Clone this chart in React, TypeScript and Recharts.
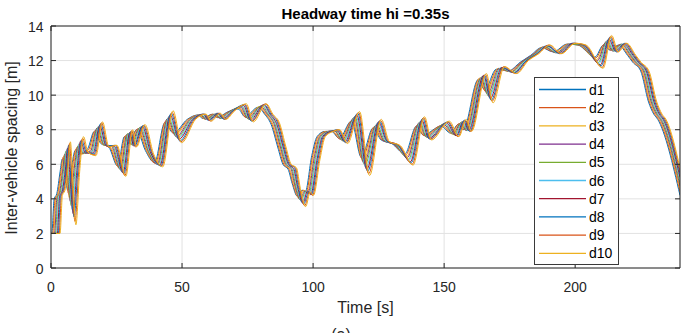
import React from 'react';
import { LineChart, Line, XAxis, YAxis, CartesianGrid, ReferenceLine } from 'recharts';

// ---- tick labels ----
const xTicks = [0, 50, 100, 150, 200];
const yTicks = [0, 2, 4, 6, 8, 10, 12, 14];

// ---- series names / colours ----
const seriesNames = ['d1', 'd2', 'd3', 'd4', 'd5', 'd6', 'd7', 'd8', 'd9', 'd10'];
const seriesColors = ['#0072BD', '#D95319', '#EDB120', '#7E2F8E', '#77AC30', '#4DBEEE', '#A2142F', '#0072BD', '#D95319', '#EDB120'];

// ---- time samples (s) and spacing values (m), one pair of arrays per vehicle ----
const t_d1 = [0, 0.3, 1.2, 2.2, 3.5, 4.25, 5.3, 6.35, 7.8, 9.25, 11, 14, 16.5, 19, 22, 25.4, 28, 29.5, 32.7, 36, 39.5, 43.4, 46.7, 52, 56, 58, 61.5, 63.5, 67, 71.4, 74, 79, 81.5, 84, 86.5, 88.5, 90.5, 92, 94, 95.8, 97, 99.5, 101.5, 104.5, 107, 110, 114.6, 118.4, 122.9, 126, 130, 135, 139.4, 142, 148.8, 152.5, 155.3, 157.3, 163, 165.5, 169.9, 174.5, 179, 183, 187.2, 191.6, 196.9, 201, 207.5, 210.8, 213.3, 216.5, 220, 222, 225, 228, 230, 231.5, 240];
const v_d1 = [2, 2, 4.0, 4.3, 5.6, 6.3, 5.6, 4.5, 5.8, 6.8, 6.6, 6.9, 7.9, 7.2, 7.0, 5.9, 7.6, 7.2, 8.0, 6.8, 6.1, 8.4, 7.8, 8.6, 8.85, 8.65, 8.9, 8.7, 9.0, 9.2, 8.75, 9.3, 8.9, 8.3, 7.0, 6.0, 5.7, 4.9, 4.15, 4.5, 4.4, 6.5, 7.6, 7.9, 7.9, 7.5, 8.5, 6.4, 8.1, 7.4, 7.2, 6.6, 8.2, 7.7, 8.2, 7.8, 8.3, 8.0, 10.9, 10.3, 11.5, 11.4, 11.9, 12.3, 12.75, 12.5, 12.95, 12.9, 12.2, 12.9, 12.6, 12.9, 12.3, 11.9, 11.4, 9.6, 8.9, 8.6, 4.2];

const t_d2 = [0, 0.65, 1.55, 2.55, 3.85, 4.6, 5.65, 6.7, 8.15, 9.6, 11.35, 14.35, 16.85, 19.35, 22.35, 25.75, 28.35, 29.85, 33.05, 36.35, 39.85, 43.75, 47.05, 52.35, 56.35, 58.35, 61.85, 63.85, 67.35, 71.75, 74.35, 79.35, 81.85, 84.35, 86.85, 88.85, 90.85, 92.35, 94.35, 96.15, 97.35, 99.85, 101.85, 104.85, 107.35, 110.35, 114.95, 118.75, 123.25, 126.35, 130.35, 135.35, 139.75, 142.35, 149.15, 152.85, 155.65, 157.65, 163.35, 165.85, 170.25, 174.85, 179.35, 183.35, 187.55, 191.95, 197.25, 201.35, 207.85, 211.15, 213.65, 216.85, 220.35, 222.35, 225.35, 228.35, 230.35, 231.85, 240];
const v_d2 = [2, 2, 4.0, 4.3, 5.65, 6.4, 5.5, 4.3, 5.8, 6.9, 6.6, 6.85, 7.95, 7.2, 7.0, 5.85, 7.65, 7.2, 8.05, 6.8, 6.05, 8.5, 7.75, 8.6, 8.85, 8.65, 8.9, 8.7, 9.0, 9.25, 8.7, 9.3, 8.9, 8.3, 7.0, 6.0, 5.7, 4.85, 4.1, 4.5, 4.4, 6.5, 7.6, 7.9, 7.9, 7.45, 8.55, 6.3, 8.15, 7.4, 7.2, 6.55, 8.25, 7.65, 8.25, 7.8, 8.35, 8.0, 10.95, 10.2, 11.5, 11.4, 11.9, 12.3, 12.75, 12.5, 12.95, 12.9, 12.15, 12.95, 12.6, 12.9, 12.3, 11.9, 11.4, 9.6, 8.9, 8.6, 4.4];

const t_d3 = [0, 1.0, 1.9, 2.9, 4.2, 4.95, 6.0, 7.05, 8.5, 9.95, 11.7, 14.7, 17.2, 19.7, 22.7, 26.1, 28.7, 30.2, 33.4, 36.7, 40.2, 44.1, 47.4, 52.7, 56.7, 58.7, 62.2, 64.2, 67.7, 72.1, 74.7, 79.7, 82.2, 84.7, 87.2, 89.2, 91.2, 92.7, 94.7, 96.5, 97.7, 100.2, 102.2, 105.2, 107.7, 110.7, 115.3, 119.1, 123.6, 126.7, 130.7, 135.7, 140.1, 142.7, 149.5, 153.2, 156.0, 158.0, 163.7, 166.2, 170.6, 175.2, 179.7, 183.7, 187.9, 192.3, 197.6, 201.7, 208.2, 211.5, 214.0, 217.2, 220.7, 222.7, 225.7, 228.7, 230.7, 232.2, 240];
const v_d3 = [2, 2, 4.05, 4.35, 5.7, 6.5, 5.4, 4.05, 5.75, 7.0, 6.6, 6.8, 8.0, 7.15, 7.0, 5.75, 7.7, 7.15, 8.05, 6.75, 6.05, 8.55, 7.7, 8.6, 8.85, 8.6, 8.9, 8.7, 9.0, 9.25, 8.7, 9.35, 8.9, 8.3, 7.0, 6.0, 5.7, 4.85, 4.0, 4.5, 4.35, 6.45, 7.6, 7.9, 7.9, 7.45, 8.6, 6.15, 8.2, 7.4, 7.2, 6.45, 8.3, 7.65, 8.25, 7.75, 8.35, 8.0, 11.0, 10.15, 11.55, 11.35, 11.9, 12.3, 12.8, 12.5, 12.95, 12.9, 12.05, 13.0, 12.6, 12.9, 12.3, 11.9, 11.4, 9.6, 8.9, 8.6, 4.55];

const t_d4 = [0, 1.35, 2.25, 3.25, 4.55, 5.3, 6.35, 7.4, 8.85, 10.3, 12.05, 15.05, 17.55, 20.05, 23.05, 26.45, 29.05, 30.55, 33.75, 37.05, 40.55, 44.45, 47.75, 53.05, 57.05, 59.05, 62.55, 64.55, 68.05, 72.45, 75.05, 80.05, 82.55, 85.05, 87.55, 89.55, 91.55, 93.05, 95.05, 96.85, 98.05, 100.55, 102.55, 105.55, 108.05, 111.05, 115.65, 119.45, 123.95, 127.05, 131.05, 136.05, 140.45, 143.05, 149.85, 153.55, 156.35, 158.35, 164.05, 166.55, 170.95, 175.55, 180.05, 184.05, 188.25, 192.65, 197.95, 202.05, 208.55, 211.85, 214.35, 217.55, 221.05, 223.05, 226.05, 229.05, 231.05, 232.55, 240];
const v_d4 = [2, 2, 4.05, 4.35, 5.75, 6.6, 5.25, 3.85, 5.75, 7.05, 6.65, 6.75, 8.1, 7.15, 7.05, 5.7, 7.75, 7.15, 8.1, 6.75, 6.0, 8.65, 7.6, 8.6, 8.85, 8.6, 8.9, 8.65, 9.05, 9.3, 8.65, 9.35, 8.9, 8.35, 7.0, 6.0, 5.75, 4.8, 3.95, 4.45, 4.35, 6.45, 7.6, 7.9, 7.95, 7.4, 8.7, 6.05, 8.25, 7.35, 7.15, 6.4, 8.4, 7.6, 8.3, 7.75, 8.4, 7.95, 11.0, 10.05, 11.55, 11.35, 11.95, 12.35, 12.8, 12.45, 12.95, 12.9, 12.0, 13.1, 12.55, 12.95, 12.3, 11.9, 11.4, 9.6, 8.9, 8.6, 4.75];

const t_d5 = [0, 1.7, 2.6, 3.6, 4.9, 5.65, 6.7, 7.75, 9.2, 10.65, 12.4, 15.4, 17.9, 20.4, 23.4, 26.8, 29.4, 30.9, 34.1, 37.4, 40.9, 44.8, 48.1, 53.4, 57.4, 59.4, 62.9, 64.9, 68.4, 72.8, 75.4, 80.4, 82.9, 85.4, 87.9, 89.9, 91.9, 93.4, 95.4, 97.2, 98.4, 100.9, 102.9, 105.9, 108.4, 111.4, 116.0, 119.8, 124.3, 127.4, 131.4, 136.4, 140.8, 143.4, 150.2, 153.9, 156.7, 158.7, 164.4, 166.9, 171.3, 175.9, 180.4, 184.4, 188.6, 193.0, 198.3, 202.4, 208.9, 212.2, 214.7, 217.9, 221.4, 223.4, 226.4, 229.4, 231.4, 232.9, 240];
const v_d5 = [2, 2, 4.1, 4.4, 5.8, 6.75, 5.15, 3.6, 5.7, 7.15, 6.65, 6.7, 8.15, 7.1, 7.05, 5.65, 7.8, 7.1, 8.15, 6.7, 6.0, 8.7, 7.55, 8.6, 8.85, 8.6, 8.9, 8.65, 9.05, 9.35, 8.6, 9.4, 8.9, 8.35, 7.0, 6.0, 5.75, 4.75, 3.9, 4.45, 4.3, 6.4, 7.6, 7.9, 7.95, 7.35, 8.75, 5.95, 8.3, 7.35, 7.15, 6.3, 8.45, 7.55, 8.35, 7.7, 8.45, 7.95, 11.05, 9.95, 11.55, 11.35, 11.95, 12.35, 12.8, 12.45, 12.95, 12.9, 11.9, 13.15, 12.55, 12.95, 12.3, 11.9, 11.4, 9.6, 8.9, 8.6, 4.9];

const t_d6 = [0, 2.05, 2.95, 3.95, 5.25, 6.0, 7.05, 8.1, 9.55, 11.0, 12.75, 15.75, 18.25, 20.75, 23.75, 27.15, 29.75, 31.25, 34.45, 37.75, 41.25, 45.15, 48.45, 53.75, 57.75, 59.75, 63.25, 65.25, 68.75, 73.15, 75.75, 80.75, 83.25, 85.75, 88.25, 90.25, 92.25, 93.75, 95.75, 97.55, 98.75, 101.25, 103.25, 106.25, 108.75, 111.75, 116.35, 120.15, 124.65, 127.75, 131.75, 136.75, 141.15, 143.75, 150.55, 154.25, 157.05, 159.05, 164.75, 167.25, 171.65, 176.25, 180.75, 184.75, 188.95, 193.35, 198.65, 202.75, 209.25, 212.55, 215.05, 218.25, 221.75, 223.75, 226.75, 229.75, 231.75, 233.25, 240];
const v_d6 = [2, 2, 4.1, 4.4, 5.8, 6.85, 5.05, 3.4, 5.7, 7.25, 6.65, 6.7, 8.2, 7.1, 7.05, 5.55, 7.8, 7.1, 8.15, 6.7, 5.95, 8.8, 7.5, 8.6, 8.9, 8.55, 8.95, 8.65, 9.05, 9.35, 8.6, 9.4, 8.9, 8.35, 7.0, 6.0, 5.75, 4.75, 3.8, 4.45, 4.3, 6.4, 7.6, 7.9, 7.95, 7.35, 8.8, 5.8, 8.4, 7.35, 7.15, 6.25, 8.5, 7.55, 8.35, 7.7, 8.45, 7.95, 11.1, 9.9, 11.6, 11.3, 11.95, 12.35, 12.85, 12.45, 13.0, 12.9, 11.85, 13.2, 12.55, 12.95, 12.3, 11.9, 11.4, 9.6, 8.9, 8.6, 5.1];

const t_d7 = [0, 2.4, 3.3, 4.3, 5.6, 6.35, 7.4, 8.45, 9.9, 11.35, 13.1, 16.1, 18.6, 21.1, 24.1, 27.5, 30.1, 31.6, 34.8, 38.1, 41.6, 45.5, 48.8, 54.1, 58.1, 60.1, 63.6, 65.6, 69.1, 73.5, 76.1, 81.1, 83.6, 86.1, 88.6, 90.6, 92.6, 94.1, 96.1, 97.9, 99.1, 101.6, 103.6, 106.6, 109.1, 112.1, 116.7, 120.5, 125.0, 128.1, 132.1, 137.1, 141.5, 144.1, 150.9, 154.6, 157.4, 159.4, 165.1, 167.6, 172.0, 176.6, 181.1, 185.1, 189.3, 193.7, 199.0, 203.1, 209.6, 212.9, 215.4, 218.6, 222.1, 224.1, 227.1, 230.1, 232.1, 233.6, 240];
const v_d7 = [2, 2, 4.15, 4.45, 5.85, 6.95, 4.95, 3.15, 5.65, 7.35, 6.65, 6.65, 8.25, 7.05, 7.05, 5.5, 7.85, 7.05, 8.2, 6.65, 5.95, 8.85, 7.45, 8.6, 8.9, 8.55, 8.95, 8.65, 9.05, 9.4, 8.55, 9.45, 8.9, 8.35, 7.0, 6.0, 5.75, 4.7, 3.75, 4.45, 4.25, 6.35, 7.6, 7.9, 7.95, 7.3, 8.85, 5.7, 8.45, 7.35, 7.15, 6.15, 8.55, 7.5, 8.4, 7.65, 8.5, 7.95, 11.15, 9.8, 11.6, 11.3, 11.95, 12.35, 12.85, 12.45, 13.0, 12.9, 11.75, 13.25, 12.55, 12.95, 12.3, 11.9, 11.4, 9.6, 8.9, 8.6, 5.25];

const t_d8 = [0, 2.75, 3.65, 4.65, 5.95, 6.7, 7.75, 8.8, 10.25, 11.7, 13.45, 16.45, 18.95, 21.45, 24.45, 27.85, 30.45, 31.95, 35.15, 38.45, 41.95, 45.85, 49.15, 54.45, 58.45, 60.45, 63.95, 65.95, 69.45, 73.85, 76.45, 81.45, 83.95, 86.45, 88.95, 90.95, 92.95, 94.45, 96.45, 98.25, 99.45, 101.95, 103.95, 106.95, 109.45, 112.45, 117.05, 120.85, 125.35, 128.45, 132.45, 137.45, 141.85, 144.45, 151.25, 154.95, 157.75, 159.75, 165.45, 167.95, 172.35, 176.95, 181.45, 185.45, 189.65, 194.05, 199.35, 203.45, 209.95, 213.25, 215.75, 218.95, 222.45, 224.45, 227.45, 230.45, 232.45, 233.95, 240];
const v_d8 = [2, 2, 4.15, 4.45, 5.9, 7.1, 4.8, 2.95, 5.65, 7.4, 6.7, 6.6, 8.35, 7.05, 7.1, 5.45, 7.9, 7.05, 8.25, 6.65, 5.9, 8.95, 7.35, 8.6, 8.9, 8.55, 8.95, 8.6, 9.1, 9.45, 8.5, 9.45, 8.9, 8.4, 7.0, 6.0, 5.8, 4.65, 3.7, 4.4, 4.25, 6.35, 7.6, 7.9, 8.0, 7.25, 8.95, 5.6, 8.5, 7.3, 7.1, 6.1, 8.65, 7.45, 8.45, 7.65, 8.55, 7.9, 11.15, 9.7, 11.6, 11.3, 12.0, 12.4, 12.85, 12.4, 13.0, 12.9, 11.7, 13.35, 12.5, 13.0, 12.3, 11.9, 11.4, 9.6, 8.9, 8.6, 5.45];

const t_d9 = [0, 3.1, 4.0, 5.0, 6.3, 7.05, 8.1, 9.15, 10.6, 12.05, 13.8, 16.8, 19.3, 21.8, 24.8, 28.2, 30.8, 32.3, 35.5, 38.8, 42.3, 46.2, 49.5, 54.8, 58.8, 60.8, 64.3, 66.3, 69.8, 74.2, 76.8, 81.8, 84.3, 86.8, 89.3, 91.3, 93.3, 94.8, 96.8, 98.6, 99.8, 102.3, 104.3, 107.3, 109.8, 112.8, 117.4, 121.2, 125.7, 128.8, 132.8, 137.8, 142.2, 144.8, 151.6, 155.3, 158.1, 160.1, 165.8, 168.3, 172.7, 177.3, 181.8, 185.8, 190.0, 194.4, 199.7, 203.8, 210.3, 213.6, 216.1, 219.3, 222.8, 224.8, 227.8, 230.8, 232.8, 234.3, 240];
const v_d9 = [2, 2, 4.2, 4.5, 5.95, 7.2, 4.7, 2.7, 5.6, 7.5, 6.7, 6.55, 8.4, 7.0, 7.1, 5.35, 7.95, 7.0, 8.25, 6.6, 5.9, 9.0, 7.3, 8.6, 8.9, 8.5, 8.95, 8.6, 9.1, 9.45, 8.5, 9.5, 8.9, 8.4, 7.0, 6.0, 5.8, 4.65, 3.6, 4.4, 4.2, 6.3, 7.6, 7.9, 8.0, 7.25, 9.0, 5.45, 8.55, 7.3, 7.1, 6.0, 8.7, 7.45, 8.45, 7.6, 8.55, 7.9, 11.2, 9.65, 11.65, 11.25, 12.0, 12.4, 12.9, 12.4, 13.0, 12.9, 11.6, 13.4, 12.5, 13.0, 12.3, 11.9, 11.4, 9.6, 8.9, 8.6, 5.6];

const t_d10 = [0, 3.45, 4.35, 5.35, 6.65, 7.4, 8.45, 9.5, 10.95, 12.4, 14.15, 17.15, 19.65, 22.15, 25.15, 28.55, 31.15, 32.65, 35.85, 39.15, 42.65, 46.55, 49.85, 55.15, 59.15, 61.15, 64.65, 66.65, 70.15, 74.55, 77.15, 82.15, 84.65, 87.15, 89.65, 91.65, 93.65, 95.15, 97.15, 98.95, 100.15, 102.65, 104.65, 107.65, 110.15, 113.15, 117.75, 121.55, 126.05, 129.15, 133.15, 138.15, 142.55, 145.15, 151.95, 155.65, 158.45, 160.45, 166.15, 168.65, 173.05, 177.65, 182.15, 186.15, 190.35, 194.75, 200.05, 204.15, 210.65, 213.95, 216.45, 219.65, 223.15, 225.15, 228.15, 231.15, 233.15, 234.65, 240];
const v_d10 = [2, 2, 4.2, 4.5, 6.0, 7.3, 4.6, 2.5, 5.6, 7.6, 6.7, 6.5, 8.45, 7.0, 7.1, 5.3, 8.0, 7.0, 8.3, 6.6, 5.85, 9.1, 7.25, 8.6, 8.9, 8.5, 8.95, 8.6, 9.1, 9.5, 8.45, 9.5, 8.9, 8.4, 7.0, 6.0, 5.8, 4.6, 3.55, 4.4, 4.2, 6.3, 7.6, 7.9, 8.0, 7.2, 9.05, 5.35, 8.6, 7.3, 7.1, 5.95, 8.75, 7.4, 8.5, 7.6, 8.6, 7.9, 11.25, 9.55, 11.65, 11.25, 12.0, 12.4, 12.9, 12.4, 13.0, 12.9, 11.55, 13.45, 12.5, 13.0, 12.3, 11.9, 11.4, 9.6, 8.9, 8.6, 5.8];

const seriesTimes = [t_d1, t_d2, t_d3, t_d4, t_d5, t_d6, t_d7, t_d8, t_d9, t_d10];
const seriesValues = [v_d1, v_d2, v_d3, v_d4, v_d5, v_d6, v_d7, v_d8, v_d9, v_d10];

const series = seriesNames.map((name, i) => ({
  name,
  color: seriesColors[i],
  data: seriesTimes[i].map((t, k) => ({ t, v: seriesValues[i][k] })),
}));

const X_MIN = 0;
const X_MAX = 240;
const Y_MIN = 0;
const Y_MAX = 14;

const FONT = '"Liberation Sans", Arial, Helvetica, sans-serif';
const AX = '#262626';
const W = 688;
const H = 333;

const BottomTick = (p: any) => (
  <g>
    <line x1={p.x} y1={p.y} x2={p.x} y2={p.y - 5} stroke={AX} strokeWidth={1} />
    <text x={p.x} y={p.y + 23.5} textAnchor="middle" fontSize={14} fill={AX} fontFamily={FONT}>
      {p.payload.value}
    </text>
  </g>
);
const LeftTick = (p: any) => (
  <g>
    <line x1={p.x} y1={p.y} x2={p.x + 5} y2={p.y} stroke={AX} strokeWidth={1} />
    <text x={p.x - 7.5} y={p.y + 5.5} textAnchor="end" fontSize={14} fill={AX} fontFamily={FONT}>
      {p.payload.value}
    </text>
  </g>
);

const LegendBox = () => (
  <svg width={85} height={188} style={{ display: 'block' }}>
    <rect x={0.5} y={0.5} width={84} height={187} fill="#ffffff" stroke="#3a3a3a" strokeWidth={1} />
    {series.map((s, i) => (
      <g key={s.name}>
        <line x1={5} x2={52} y1={12.5 + i * 18.2} y2={12.5 + i * 18.2} stroke={s.color} strokeWidth={1.3} />
        <text x={55} y={17.5 + i * 18.2} fontSize={14} fill="#000" fontFamily={FONT}>
          {s.name}
        </text>
      </g>
    ))}
  </svg>
);

export default function App() {
  return (
    <div
      style={{
        position: 'absolute',
        left: 0,
        top: 0,
        width: W,
        height: H,
        background: '#ffffff',
        overflow: 'hidden',
        fontFamily: FONT,
      }}
    >
      <LineChart width={W} height={H} margin={{ top: 26, right: 8, bottom: 0, left: 0 }}>
        <CartesianGrid stroke="#e2e2e2" strokeWidth={1} />
        <XAxis
          dataKey="t"
          type="number"
          domain={[X_MIN, X_MAX]}
          ticks={xTicks}
          allowDataOverflow
          axisLine={{ stroke: AX, strokeWidth: 1 }}
          tickLine={false}
          tickSize={0}
          tickMargin={0}
          height={65}
          tick={BottomTick}
          interval={0}
        />
        <YAxis
          type="number"
          domain={[Y_MIN, Y_MAX]}
          ticks={yTicks}
          allowDataOverflow
          axisLine={{ stroke: AX, strokeWidth: 1 }}
          tickLine={false}
          tickSize={0}
          tickMargin={0}
          width={51}
          tick={LeftTick}
          interval={0}
        />
        {series.map((s) => (
          <Line
            key={s.name}
            data={s.data}
            dataKey="v"
            name={s.name}
            type="monotone"
            stroke={s.color}
            strokeWidth={1}
            dot={false}
            activeDot={false}
            isAnimationActive={false}
          />
        ))}
        {/* box: top and right edges */}
        <ReferenceLine y={Y_MAX} stroke={AX} strokeWidth={1} />
        <ReferenceLine x={X_MAX} stroke={AX} strokeWidth={1} />
        {/* inward ticks on the top edge */}
        {xTicks.map((v) => (
          <ReferenceLine
            key={'tt' + v}
            segment={[{ x: v, y: Y_MAX }, { x: v, y: Y_MAX - 0.29 }]}
            stroke={AX}
            strokeWidth={1}
          />
        ))}
        {/* inward ticks on the right edge */}
        {yTicks.map((v) => (
          <ReferenceLine
            key={'rt' + v}
            segment={[{ x: X_MAX, y: v }, { x: X_MAX - 1.9, y: v }]}
            stroke={AX}
            strokeWidth={1}
          />
        ))}
      </LineChart>

      <div style={{ position: 'absolute', left: 534, top: 77, width: 85, height: 188 }}>
        <LegendBox />
      </div>

      <div
        style={{
          position: 'absolute',
          left: 51,
          width: 629,
          top: 4,
          height: 20,
          lineHeight: '20px',
          textAlign: 'center',
          fontSize: 15,
          fontWeight: 'bold',
          color: '#000',
        }}
      >
        Headway time hi =0.35s
      </div>
      <div
        style={{
          position: 'absolute',
          left: 51,
          width: 629,
          top: 298,
          height: 20,
          lineHeight: '20px',
          textAlign: 'center',
          fontSize: 16,
          color: AX,
        }}
      >
        Time [s]
      </div>
      <div
        style={{
          position: 'absolute',
          left: 12 - 150,
          top: 147.5 - 10,
          width: 300,
          height: 20,
          lineHeight: '20px',
          textAlign: 'center',
          fontSize: 16,
          color: AX,
          transform: 'rotate(-90deg)',
          transformOrigin: '150px 10px',
          whiteSpace: 'nowrap',
        }}
      >
        Inter-vehicle spacing [m]
      </div>
      <div
        style={{
          position: 'absolute',
          left: 321,
          width: 40,
          top: 325,
          height: 20,
          lineHeight: '20px',
          textAlign: 'center',
          fontSize: 16,
          color: AX,
        }}
      >
        (a)
      </div>
    </div>
  );
}
